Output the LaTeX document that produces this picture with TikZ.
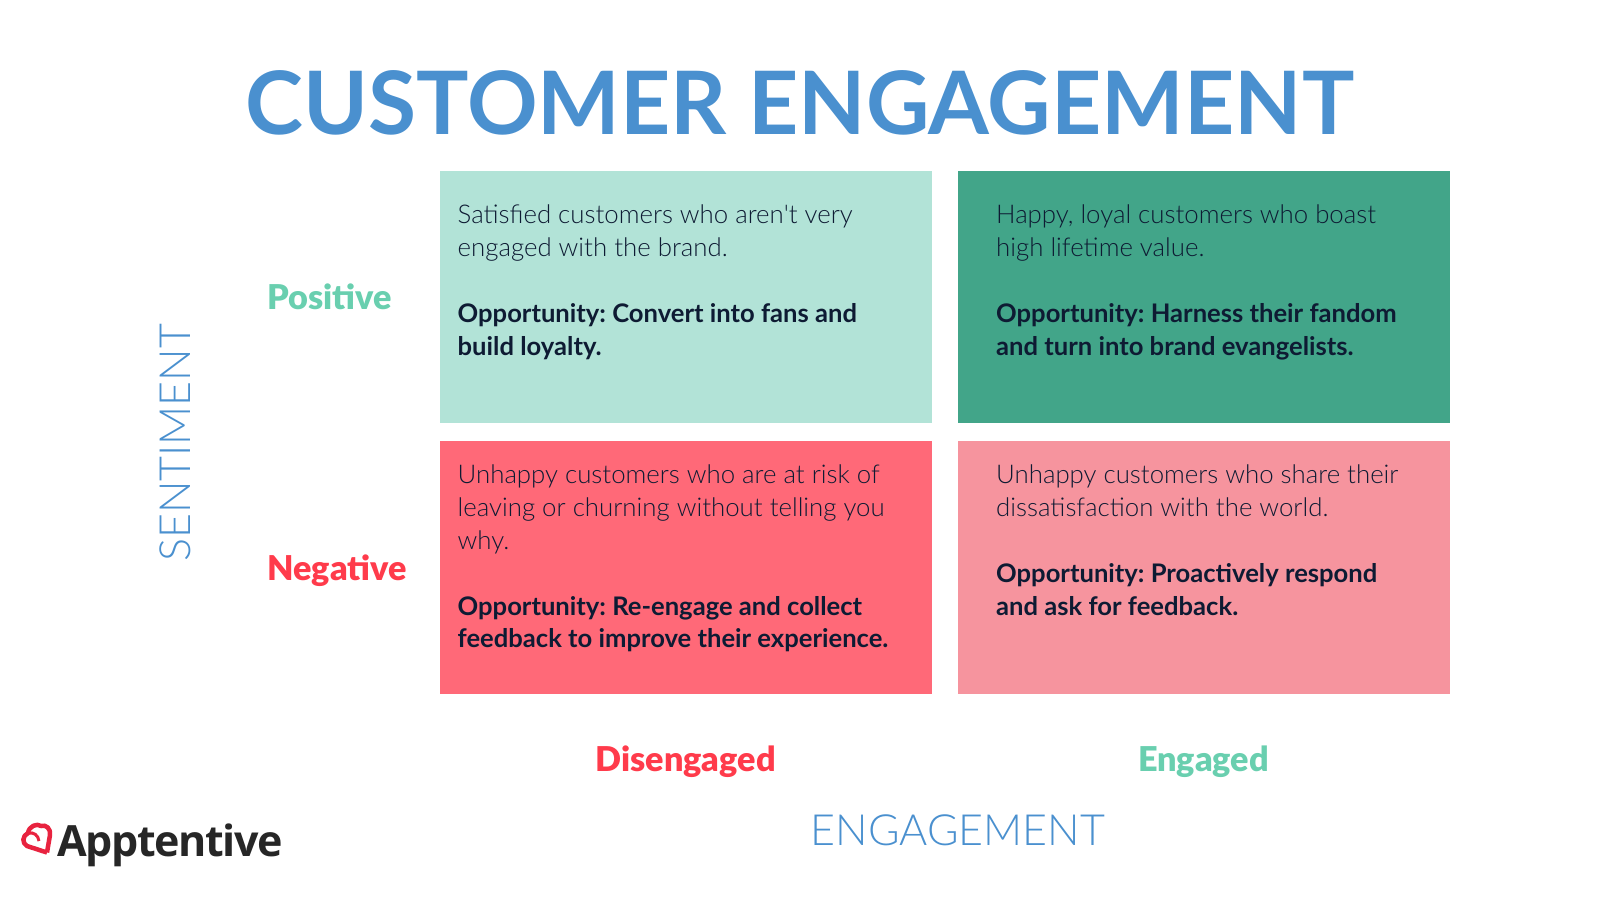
\documentclass[tikz,border=0pt]{standalone}
\usepackage{fontspec}
\setmainfont{Lato}
\newfontfamily\lightfont{Lato Light}
\newfontfamily\heavyfont{Lato Black}
\newfontfamily\logofont[LetterSpace=-3.3]{Open Sans}
\usepackage{tikz}
\definecolor{headblue}{HTML}{4A90CF}
\definecolor{palegreen}{HTML}{B2E3D7}
\definecolor{deepgreen}{HTML}{42A589}
\definecolor{hotred}{HTML}{FF6978}
\definecolor{palered}{HTML}{F6949E}
\definecolor{posgreen}{HTML}{69CFAF}
\definecolor{negred}{HTML}{FF3B4B}
\definecolor{inkblue}{HTML}{0E1B33}
\definecolor{logored}{HTML}{E8233F}
\definecolor{logoink}{HTML}{262626}
\newcommand{\thin}[1]{{\lightfont\fontsize{25.8}{32.9}\selectfont #1}}
\newcommand{\bold}[1]{{\bfseries\fontsize{25.6}{32.9}\selectfont #1}}
\tikzset{
  cell/.style={inner sep=0pt,minimum width=492pt,minimum height=252.5pt},
  celltext/.style={anchor=north west,inner sep=0pt,align=left,text=inkblue,font=\frenchspacing\fontsize{25}{32.9}\selectfont},
  axisname/.style={inner sep=0pt,text=headblue,font=\lightfont\fontsize{43}{43}\selectfont},
  rowname/.style={inner sep=0pt,font=\heavyfont\fontsize{34.2}{34.2}\selectfont},
}
\begin{document}
\begin{tikzpicture}[x=1pt,y=-1pt]
\useasboundingbox (0,0) rectangle (1600,900);
\fill [white] (0,0) rectangle (1600,900);
\node [inner sep=0pt,text=headblue,font=\bfseries\fontsize{87.5}{87.5}\selectfont] (title) at (800,103) {CUSTOMER ENGAGEMENT};
% the four cells
\node [cell,fill=palegreen] (posdis) at (685.5,297) {};
\node [cell,fill=deepgreen] (poseng) at (1203.5,297) {};
\node [cell,fill=hotred] (negdis) at (685.5,567.5) {};
\node [cell,fill=palered] (negeng) at (1203.5,567.5) {};
\node [celltext] (posdistext) at (457.5,204.5) {\thin{Satisfied customers who aren't very}\\\thin{engaged with the brand.}\\[32.9pt]\bold{Opportunity: Convert into fans and}\\\bold{build loyalty.}};
\node [celltext] (posengtext) at (996,204.5) {\thin{Happy, loyal customers who boast}\\\thin{high lifetime value.}\\[32.9pt]\bold{Opportunity: Harness their fandom}\\\bold{and turn into brand evangelists.}};
\node [celltext] (negdistext) at (457.5,464.5) {\thin{Unhappy customers who are at risk of}\\\thin{leaving or churning without telling you}\\\thin{why.}\\[32.9pt]\bold{Opportunity: Re-engage and collect}\\\bold{feedback to improve their experience.}};
\node [celltext] (negengtext) at (996,464.5) {\thin{Unhappy customers who share their}\\\thin{dissatisfaction with the world.}\\[32.9pt]\bold{Opportunity: Proactively respond}\\\bold{and ask for feedback.}};
% row and column names
\node [rowname,text=posgreen,anchor=west] (positive) at (267,297) {Positive};
\node [rowname,text=negred,anchor=west] (negative) at (267,571) {Negative};
\node [rowname,text=negred] (disengaged) at (685.5,762) {Disengaged};
\node [rowname,text=posgreen] (engaged) at (1203.5,762) {Engaged};
\node [axisname,rotate=90] (sentiment) at (175,443) {SENTIMENT};
\node [axisname] (engagement) at (958,830) {ENGAGEMENT};
% logo
\draw [logored,line width=4.5pt,line join=round] (47,852.5) -- (27,846) .. controls (22,843) and (22,836) .. (28,833) .. controls (29,826) and (37,823) .. (41,826) .. controls (46,824) and (51,829) .. (50,835) -- (47,852.5);
\draw [logored,line width=3pt] (28,833) .. controls (34,832) and (38,835) .. (39,841);
\node [inner sep=0pt,anchor=base west,text=logoink,font=\logofont\bfseries\fontsize{43}{43}\selectfont] (logo) at (57,856) {Apptentive};
\end{tikzpicture}
\end{document}
